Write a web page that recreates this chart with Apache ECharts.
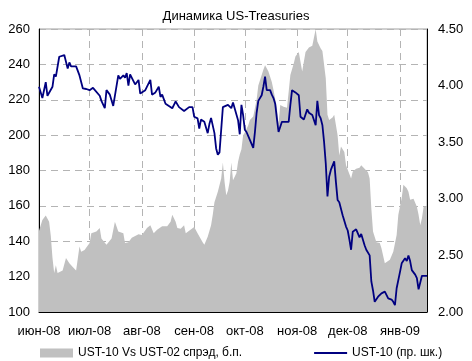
<!DOCTYPE html>
<html>
<head>
<meta charset="utf-8">
<script src="https://cdn.jsdelivr.net/npm/echarts@6/dist/echarts.min.js"></script>
<style>
  html, body { margin: 0; padding: 0; background: #fff; }
  #chart { width: 472px; height: 361px; }
</style>
</head>
<body>
<div id="chart"></div>
<script>
// Spread UST-10 vs UST-02, basis points (left scale)
const spreadDates = [
  '2008-06-01','2008-06-03','2008-06-05','2008-06-07','2008-06-08','2008-06-09','2008-06-10','2008-06-11','2008-06-12','2008-06-13',
  '2008-06-15','2008-06-17','2008-06-19','2008-06-21','2008-06-23','2008-06-25','2008-06-26','2008-06-28','2008-06-29','2008-07-01',
  '2008-07-02','2008-07-05','2008-07-07','2008-07-08','2008-07-11','2008-07-14','2008-07-16','2008-07-17','2008-07-18','2008-07-21',
  '2008-07-22','2008-07-24','2008-07-26','2008-07-28','2008-07-30','2008-08-01','2008-08-04','2008-08-06','2008-08-07','2008-08-08',
  '2008-08-10','2008-08-13','2008-08-16','2008-08-18','2008-08-19','2008-08-21','2008-08-22','2008-08-24','2008-08-26','2008-08-27',
  '2008-08-28','2008-09-01','2008-09-03','2008-09-04','2008-09-06','2008-09-07','2008-09-09','2008-09-10','2008-09-11','2008-09-12',
  '2008-09-13','2008-09-15','2008-09-16','2008-09-17','2008-09-18','2008-09-19','2008-09-20','2008-09-21','2008-09-22','2008-09-23',
  '2008-09-24','2008-09-26','2008-09-27','2008-09-28','2008-09-29','2008-09-30','2008-10-01','2008-10-02','2008-10-03','2008-10-04',
  '2008-10-06','2008-10-08','2008-10-09','2008-10-11','2008-10-12','2008-10-13','2008-10-14','2008-10-15','2008-10-16','2008-10-17',
  '2008-10-18','2008-10-20','2008-10-21','2008-10-22','2008-10-24','2008-10-26','2008-10-27','2008-10-28','2008-10-30','2008-10-31',
  '2008-11-02','2008-11-03','2008-11-04','2008-11-05','2008-11-06','2008-11-08','2008-11-10','2008-11-11','2008-11-12','2008-11-13',
  '2008-11-15','2008-11-16','2008-11-18','2008-11-19','2008-11-20','2008-11-22','2008-11-23','2008-11-24','2008-11-25','2008-11-26',
  '2008-11-27','2008-11-29','2008-11-30','2008-12-03','2008-12-04','2008-12-06','2008-12-08','2008-12-09','2008-12-11','2008-12-13',
  '2008-12-14','2008-12-15','2008-12-16','2008-12-18','2008-12-20','2008-12-21','2008-12-23','2008-12-24','2008-12-26','2008-12-28',
  '2008-12-30','2008-12-31','2009-01-02','2009-01-03','2009-01-05','2009-01-06','2009-01-07','2009-01-09','2009-01-11','2009-01-12',
  '2009-01-13','2009-01-14','2009-01-15','2009-01-17'
];
const spreadValues = [
  146,152,154.5,151,143,130.5,122,126.5,122,123,
  123.5,130.5,127.5,125.5,123.5,137,134,135,135.5,139,
  144.5,145.5,147.5,141.5,138,141.5,151,150,145.5,144.5,
  139,139.5,142,143,144,143.5,147.5,149,149.5,144.5,
  146.5,148.5,148.5,151,155,151,147.5,147,149,144.5,
  144.5,148,144.5,144.5,139.5,138,142.5,143,149,155,
  162,168,168.5,175.5,184.5,173.5,166,168.5,173.5,184.5,
  174.5,178.5,185,189,192,200,201.5,202.5,205.5,208.5,
  210.5,220,228,234,237,239.5,239.5,236,233,230,
  225.5,215.5,206.5,217,216,215.5,224.5,234,240.5,244.5,
  247,247,236,241.5,247,249.5,250.5,251.5,259.8,253,
  249,247.5,232,211.5,208.5,210,211.5,211,200,188.5,
  193.5,190.5,183,175.5,179.5,181,181.5,183,181,179,
  175.5,158.5,145.5,139.5,139,136,127.5,126.5,129.5,134,
  143.5,155,164.5,172,170,168,163.5,164,159.5,155,
  149,153,159.5,159.5
];

// UST-10 yield, percent (right scale)
const yieldDates = [
  '2008-06-01','2008-06-03','2008-06-05','2008-06-06','2008-06-09','2008-06-10','2008-06-11','2008-06-13','2008-06-16','2008-06-18',
  '2008-06-19','2008-06-20','2008-06-23','2008-06-25','2008-06-26','2008-06-27','2008-06-29','2008-06-30','2008-07-01','2008-07-03',
  '2008-07-04','2008-07-07','2008-07-08','2008-07-10','2008-07-11','2008-07-13','2008-07-15','2008-07-18','2008-07-19','2008-07-21',
  '2008-07-22','2008-07-23','2008-07-24','2008-07-25','2008-07-27','2008-07-28','2008-07-30','2008-07-31','2008-08-03','2008-08-06',
  '2008-08-07','2008-08-09','2008-08-11','2008-08-12','2008-08-13','2008-08-15','2008-08-17','2008-08-19','2008-08-20','2008-08-21',
  '2008-08-23','2008-08-26','2008-08-27','2008-08-29','2008-08-31','2008-09-01','2008-09-03','2008-09-04','2008-09-05','2008-09-07',
  '2008-09-09','2008-09-10','2008-09-11','2008-09-13','2008-09-14','2008-09-15','2008-09-16','2008-09-17','2008-09-18','2008-09-21',
  '2008-09-23','2008-09-24','2008-09-25','2008-09-27','2008-09-28','2008-09-29','2008-09-30','2008-10-01','2008-10-02','2008-10-04',
  '2008-10-06','2008-10-07','2008-10-08','2008-10-09','2008-10-11','2008-10-12','2008-10-13','2008-10-14','2008-10-16','2008-10-17',
  '2008-10-18','2008-10-19','2008-10-20','2008-10-21','2008-10-23','2008-10-25','2008-10-27','2008-10-28','2008-10-29','2008-10-31',
  '2008-11-02','2008-11-03','2008-11-05','2008-11-06','2008-11-07','2008-11-08','2008-11-10','2008-11-11','2008-11-12','2008-11-13',
  '2008-11-14','2008-11-15','2008-11-16','2008-11-17','2008-11-18','2008-11-19','2008-11-20','2008-11-21','2008-11-23','2008-11-24',
  '2008-11-25','2008-11-26','2008-11-28','2008-11-30','2008-12-01','2008-12-02','2008-12-03','2008-12-04','2008-12-06','2008-12-07',
  '2008-12-08','2008-12-09','2008-12-11','2008-12-12','2008-12-14','2008-12-15','2008-12-16','2008-12-17','2008-12-19','2008-12-21',
  '2008-12-23','2008-12-24','2008-12-25','2008-12-27','2008-12-28','2008-12-29','2008-12-30','2008-12-31','2009-01-01','2009-01-02',
  '2009-01-04','2009-01-05','2009-01-06','2009-01-07','2009-01-08','2009-01-10','2009-01-11','2009-01-12','2009-01-13','2009-01-14',
  '2009-01-17'
];
const yieldValues = [
  3.99,3.89,4.03,3.91,3.99,4.10,4.08,4.255,4.27,4.15,
  4.205,4.17,4.17,4.09,4.085,3.975,3.97,3.98,3.96,3.98,
  3.97,3.91,3.865,3.80,3.96,3.92,3.82,4.09,4.06,4.09,
  4.07,4.11,4.00,4.10,4.04,4.01,4.05,3.93,3.96,4.05,
  3.92,3.94,3.99,3.90,3.92,3.84,3.82,3.80,3.83,3.86,
  3.81,3.775,3.76,3.81,3.81,3.725,3.71,3.62,3.70,3.68,
  3.58,3.66,3.715,3.58,3.445,3.39,3.41,3.40,3.81,3.83,
  3.80,3.85,3.86,3.695,3.57,3.83,3.74,3.61,3.59,3.52,
  3.45,3.59,3.76,3.865,3.915,3.99,4.08,3.96,3.96,3.92,
  3.89,3.84,3.71,3.59,3.68,3.68,3.68,3.83,3.96,3.94,
  3.915,3.725,3.70,3.70,3.79,3.76,3.74,3.745,3.65,3.865,
  3.74,3.71,3.65,3.50,3.31,3.02,3.195,3.255,3.33,3.15,
  2.99,2.97,2.855,2.755,2.72,2.64,2.55,2.71,2.73,2.745,
  2.66,2.69,2.59,2.55,2.50,2.27,2.19,2.09,2.135,2.165,
  2.18,2.18,2.12,2.11,2.09,2.06,2.21,2.21,2.355,2.43,
  2.475,2.45,2.50,2.45,2.37,2.33,2.30,2.20,2.20,2.32,
  2.32
];

const monthNames = ['янв','фев','мар','апр','май','июн','июл','авг','сен','окт','ноя','дек'];
const seriesNames = ['UST-10 Vs UST-02 спрэд, б.п.', 'UST-10 (пр. шк.)'];
const titleText = 'Динамика US-Treasuries';

const FONT = '"Liberation Sans", Arial, sans-serif';
const DAY = 86400000;

function toPairs(dates, values) {
  return dates.map((d, i) => [d, values[i]]);
}

const chart = echarts.init(document.getElementById('chart'), null, { renderer: 'canvas' });

chart.setOption({
  animation: false,
  backgroundColor: '#ffffff',
  textStyle: { fontFamily: FONT, color: '#000' },
  title: {
    text: titleText,
    left: 'center',
    top: 5,
    textStyle: { fontFamily: FONT, fontSize: 13, fontWeight: 'normal', color: '#000' }
  },
  legend: {
    left: 40,
    top: 347,
    padding: 0,
    itemGap: 71,
    itemWidth: 33,
    itemHeight: 9,
    textStyle: { fontFamily: FONT, fontSize: 12, color: '#000' },
    data: [
      { name: seriesNames[0], icon: 'rect' },
      { name: seriesNames[1], itemStyle: { opacity: 0 } }
    ]
  },
  grid: {
    left: 39, right: 45, top: 29, bottom: 49,
    show: true,
    borderColor: '#a0a0a0',
    borderWidth: 1
  },
  xAxis: {
    type: 'time',
    min: +new Date(2008, 5, 1),
    max: +new Date(2009, 0, 17),
    minInterval: 28 * DAY,
    maxInterval: 31 * DAY,
    splitNumber: 8,
    axisLine: { show: true, lineStyle: { color: '#000', width: 1 } },
    axisTick: { show: false },
    axisLabel: {
      fontFamily: FONT,
      fontSize: 13,
      color: '#000',
      margin: 13,
      hideOverlap: false,
      showMinLabel: true,
      formatter: function (value) {
        const d = new Date(value);
        const yy = String(d.getFullYear() % 100).padStart(2, '0');
        return monthNames[d.getMonth()] + '-' + yy;
      }
    },
    splitLine: { show: true, lineStyle: { color: '#b4b4b4', type: [7, 5], width: 1 } }
  },
  yAxis: [
    {
      type: 'value',
      min: 100, max: 260, interval: 20,
      axisLine: { show: true, lineStyle: { color: '#000', width: 1 } },
      axisTick: { show: false },
      axisLabel: { fontFamily: FONT, fontSize: 13, color: '#000', margin: 9 },
      splitLine: { show: true, lineStyle: { color: '#b4b4b4', type: [7, 5], width: 1 } }
    },
    {
      type: 'value',
      min: 2, max: 4.5, interval: 0.5,
      position: 'right',
      axisLine: { show: true, lineStyle: { color: '#000', width: 1 } },
      axisTick: { show: false },
      axisLabel: {
        fontFamily: FONT, fontSize: 13, color: '#000', margin: 11,
        formatter: v => v.toFixed(2)
      },
      splitLine: { show: false }
    }
  ],
  series: [
    {
      name: seriesNames[0],
      type: 'line',
      yAxisIndex: 0,
      data: toPairs(spreadDates, spreadValues),
      symbol: 'none',
      itemStyle: { color: '#c0c0c0' },
      lineStyle: { width: 0, color: '#c0c0c0' },
      areaStyle: { color: '#c0c0c0', opacity: 1, origin: 'start' },
      z: 1
    },
    {
      name: seriesNames[1],
      type: 'line',
      yAxisIndex: 1,
      data: toPairs(yieldDates, yieldValues),
      symbol: 'none',
      itemStyle: { color: '#000080' },
      lineStyle: { width: 1.8, color: '#000080' },
      z: 3
    }
  ]
});
</script>
</body>
</html>
